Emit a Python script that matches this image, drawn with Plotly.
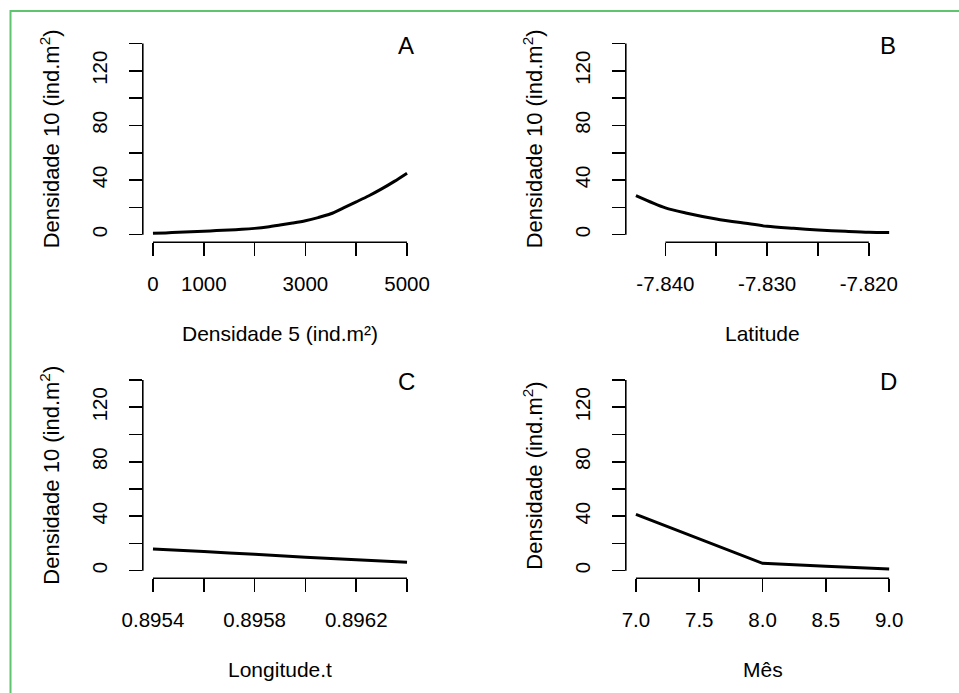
import plotly.graph_objects as go

W, H = 959, 693
FONT = "Liberation Sans, Arial, sans-serif"

# ---- data ----
dens5 = [0, 250, 500, 750, 1000, 1250, 1500, 1750, 2000, 2250, 2500, 2750,
         3000, 3250, 3500, 3750, 4000, 4250, 4500, 4750, 5000]
dens10_a = [1.0, 1.3, 1.7, 2.1, 2.5, 3.0, 3.4, 3.9, 4.6, 5.6, 7.0, 8.5,
            10.2, 12.5, 15.3, 19.6, 24.0, 28.5, 33.5, 39.0, 45.0]

lat = [-7.8429, -7.8400, -7.8380, -7.8350, -7.8321, -7.8300, -7.8274,
       -7.8250, -7.8223, -7.8200, -7.8180]
dens10_b = [28.6, 19.6, 15.9, 11.5, 8.3, 6.1, 4.6, 3.4, 2.4, 1.7, 1.5]

lon = [0.8954, 0.8956, 0.8958, 0.8960, 0.8962, 0.8964]
dens10_c = [15.9, 14.0, 12.0, 9.9, 8.0, 6.2]

mes = [7.0, 7.5, 8.0, 8.5, 9.0]
dens_d = [41.4, 23.6, 5.4, 3.2, 1.2]

ylim = [0, 140]
yticks = [0, 20, 40, 60, 80, 100, 120, 140]
ylabels = ["0", "", "40", "", "80", "", "120", ""]

xticks_a = [0, 1000, 2000, 3000, 4000, 5000]
xlabels_a = ["0", "1000", "", "3000", "", "5000"]
xticks_b = [-7.840, -7.835, -7.830, -7.825, -7.820]
xlabels_b = ["-7.840", "", "-7.830", "", "-7.820"]
xticks_c = [0.8954, 0.8956, 0.8958, 0.8960, 0.8962, 0.8964]
xlabels_c = ["0.8954", "", "0.8958", "", "0.8962", ""]
xticks_d = [7.0, 7.5, 8.0, 8.5, 9.0]
xlabels_d = ["7.0", "7.5", "8.0", "8.5", "9.0"]

xtitles = ["Densidade 5 (ind.m²)", "Latitude", "Longitude.t", "Mês"]
ytitles = ["Densidade 10 (ind.m<sup>2</sup>)", "Densidade 10 (ind.m<sup>2</sup>)",
           "Densidade 10 (ind.m<sup>2</sup>)", "Densidade (ind.m<sup>2</sup>)"]
letters = ["A", "B", "C", "D"]

panels = [
    (dens5, dens10_a, xticks_a, xlabels_a, "spline"),
    (lat, dens10_b, xticks_b, xlabels_b, "spline"),
    (lon, dens10_c, xticks_c, xlabels_c, "spline"),
    (mes, dens_d, xticks_d, xlabels_d, "linear"),
]

# ---- layout geometry (pixels) ----
col_x = [(142.8, 417.2), (625.8, 899.3)]
row_y = [(35.8, 242.3), (372.4, 578.3)]  # top, bottom in px from top


def ext(lo, hi):
    s = hi - lo
    return [lo - 0.04 * s, hi + 0.04 * s]


fig = go.Figure()
layout = dict(
    width=W, height=H, autosize=False,
    margin=dict(l=0, r=0, t=0, b=0, pad=0, autoexpand=False),
    paper_bgcolor="white", plot_bgcolor="white",
    showlegend=False,
    font=dict(family=FONT, size=20, color="black"),
)
shapes = []
annotations = []
TICKF = dict(family=FONT, size=20.5, color="black")
TITF = dict(family=FONT, size=21, color="black")
YTITF = dict(family=FONT, size=22, color="black")

for i, (xs, ys, xt, xl, shp) in enumerate(panels):
    r, c = divmod(i, 2)
    n = "" if i == 0 else str(i + 1)
    x0p, x1p = col_x[c]
    ytop, ybot = row_y[r]
    xd = [x0p / W, x1p / W]
    yd = [(H - ybot) / H, (H - ytop) / H]
    fig.add_trace(go.Scatter(x=xs, y=ys, mode="lines",
                             line=dict(color="black", width=3, shape=shp,
                                       smoothing=0.8),
                             xaxis="x" + n, yaxis="y" + n, hoverinfo="skip"))
    layout["xaxis" + n] = dict(
        domain=xd, range=ext(min(xs), max(xs)), anchor="y" + n,
        automargin=False, fixedrange=True,
        tickmode="array", tickvals=xt, ticktext=xl,
        ticks="outside", ticklen=13, tickwidth=1.6, tickcolor="black",
        showline=False, showgrid=False, zeroline=False,
        tickfont=TICKF, ticklabelstandoff=10,
    )
    layout["yaxis" + n] = dict(
        domain=yd, range=ext(*ylim), anchor="x" + n,
        automargin=False, fixedrange=True,
        tickmode="array", tickvals=yticks, ticktext=ylabels,
        ticks="outside", ticklen=13, tickwidth=1.6, tickcolor="black",
        showline=False, showgrid=False, zeroline=False, tickangle=-90,
        tickfont=TICKF, ticklabelstandoff=14,
    )
    # R-style axis lines spanning first..last tick
    shapes.append(dict(type="line", xref="x" + n + " domain", yref="y" + n,
                       x0=0, x1=0, y0=yticks[0], y1=yticks[-1],
                       line=dict(color="black", width=1.6)))
    shapes.append(dict(type="line", xref="x" + n, yref="y" + n + " domain",
                       x0=xt[0], x1=xt[-1], y0=0, y1=0,
                       line=dict(color="black", width=1.6)))
    # axis titles
    xc = (x0p + x1p) / 2
    annotations.append(dict(text=xtitles[i], xref="paper", yref="paper",
                            x=xc / W, y=(H - (ybot + 91)) / H,
                            xanchor="center", yanchor="middle", showarrow=False,
                            font=TITF))
    annotations.append(dict(text=ytitles[i], xref="paper", yref="paper",
                            x=(x0p - 92.5) / W, y=(H - (ytop + ybot) / 2) / H,
                            xanchor="center", yanchor="middle", showarrow=False,
                            textangle=-90, font=YTITF))
    # panel letter
    annotations.append(dict(text=letters[i], xref="paper", yref="paper",
                            x=(x1p - 11) / W, y=(H - (ytop + 9.5)) / H,
                            xanchor="center", yanchor="middle", showarrow=False,
                            font=dict(family=FONT, size=24, color="black")))

# green frame
shapes.append(dict(type="rect", xref="paper", yref="paper",
                   x0=10.5 / W, x1=1.05, y0=-0.05, y1=(H - 11) / H,
                   line=dict(color="#5ec46f", width=2)))

layout["shapes"] = shapes
layout["annotations"] = annotations
fig.update_layout(**layout)
fig.write_html("out.html",
               config={"displayModeBar": False, "staticPlot": True},
               post_script="document.body.style.margin='0px';"
                           "document.body.style.overflow='hidden';")
